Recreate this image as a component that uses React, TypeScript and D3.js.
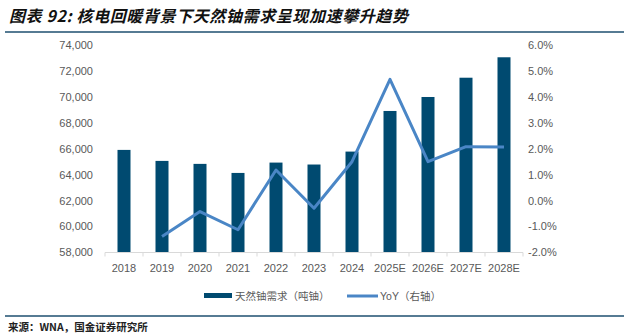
import React from "react";
import * as d3 from "d3";

const categories = ["2018", "2019", "2020", "2021", "2022", "2023", "2024", "2025E", "2026E", "2027E", "2028E"];
const demand = [65930, 65080, 64850, 64150, 64950, 64800, 65800, 68940, 70020, 71510, 73090];
const yoy: (number | null)[] = [null, -1.38, -0.42, -1.12, 1.19, -0.29, 1.51, 4.69, 1.51, 2.09, 2.08];
const leftTicks = [58000, 60000, 62000, 64000, 66000, 68000, 70000, 72000, 74000];
const rightTicks = [-2, -1, 0, 1, 2, 3, 4, 5, 6];

const title = "图表 92: 核电回暖背景下天然铀需求呈现加速攀升趋势";
const source = "来源：WNA，国金证券研究所";
const legendBar = "天然铀需求（吨铀）";
const legendLine = "YoY（右轴）";

export default function App() {
  const W = 628, H = 334;
  const left = 105, right = 523, top = 45.5, bottom = 252.5;
  const x = d3.scaleBand<string>().domain(categories).range([left, right]).paddingInner(0).paddingOuter(0);
  const yL = d3.scaleLinear().domain([58000, 74000]).range([bottom, top]);
  const yR = d3.scaleLinear().domain([-2, 6]).range([bottom, top]);
  const barW = 13;
  const pts = categories
    .map((c, i) => ({ c, v: yoy[i] }))
    .filter((d) => d.v !== null) as { c: string; v: number }[];
  const line = d3
    .line<{ c: string; v: number }>()
    .x((d) => (x(d.c) as number) + x.bandwidth() / 2)
    .y((d) => yR(d.v));
  const fmt = d3.format(",");
  const fontAx = "'Liberation Sans', Arial, sans-serif";
  const cjk = "'Liberation Sans', 'Noto Sans CJK SC', sans-serif";
  const barColor = "#004a70";
  const lineColor = "#4a86c6";
  const labelColor = "#595959";
  const boundaries = d3.range(categories.length + 1).map((i) => left + i * x.step());

  return (
    <svg width={W} height={H} style={{ position: "absolute", left: 0, top: 0, background: "#fff" }}>
      <text x={9} y={22} fontFamily="'Noto Sans CJK SC', sans-serif" fontWeight={700} fontStyle="italic" fontSize={16} letterSpacing={0.6} fill="#111">
        {title}
      </text>
      <line x1={5} x2={624} y1={32} y2={32} stroke="#1e4f6f" strokeWidth={1.5} />

      {leftTicks.map((t) => (
        <text key={t} x={93} y={yL(t)} dy="0.35em" textAnchor="end" fontFamily={fontAx} fontSize={11} fill={labelColor}>
          {fmt(t)}
        </text>
      ))}
      {rightTicks.map((t) => (
        <text key={t} x={528} y={yR(t)} dy="0.35em" textAnchor="start" fontFamily={fontAx} fontSize={11} fill={labelColor}>
          {t.toFixed(1) + "%"}
        </text>
      ))}

      {categories.map((c, i) => (
        <rect
          key={c}
          x={(x(c) as number) + x.bandwidth() / 2 - barW / 2}
          y={yL(demand[i])}
          width={barW}
          height={bottom - yL(demand[i])}
          fill={barColor}
        />
      ))}

      <line x1={left} x2={right} y1={bottom} y2={bottom} stroke="#d9d9d9" strokeWidth={1} />
      {boundaries.map((b, i) => (
        <line key={i} x1={b} x2={b} y1={bottom} y2={bottom + 4} stroke="#d9d9d9" strokeWidth={1} />
      ))}
      {categories.map((c) => (
        <text key={c} x={(x(c) as number) + x.bandwidth() / 2} y={268} dy="0.35em" textAnchor="middle" fontFamily={fontAx} fontSize={11} fill={labelColor}>
          {c}
        </text>
      ))}

      <path d={line(pts) || ""} fill="none" stroke={lineColor} strokeWidth={3} strokeLinejoin="round" />

      <rect x={204} y={293} width={28} height={5} fill={barColor} />
      <text x={235} y={296} dy="0.35em" fontFamily={cjk} fontSize={10.5} fill={labelColor}>
        {legendBar}
      </text>
      <line x1={347} x2={378} y1={296} y2={296} stroke={lineColor} strokeWidth={3} />
      <text x={380} y={296} dy="0.35em" fontFamily={cjk} fontSize={10.5} fill={labelColor}>
        {legendLine}
      </text>

      <line x1={5} x2={624} y1={316} y2={316} stroke="#1e4f6f" strokeWidth={1.5} />
      <text x={8} y={327} dy="0.35em" fontFamily="'Noto Sans CJK SC', sans-serif" fontWeight={700} fontSize={10.5} fill="#222">
        {source}
      </text>
    </svg>
  );
}
